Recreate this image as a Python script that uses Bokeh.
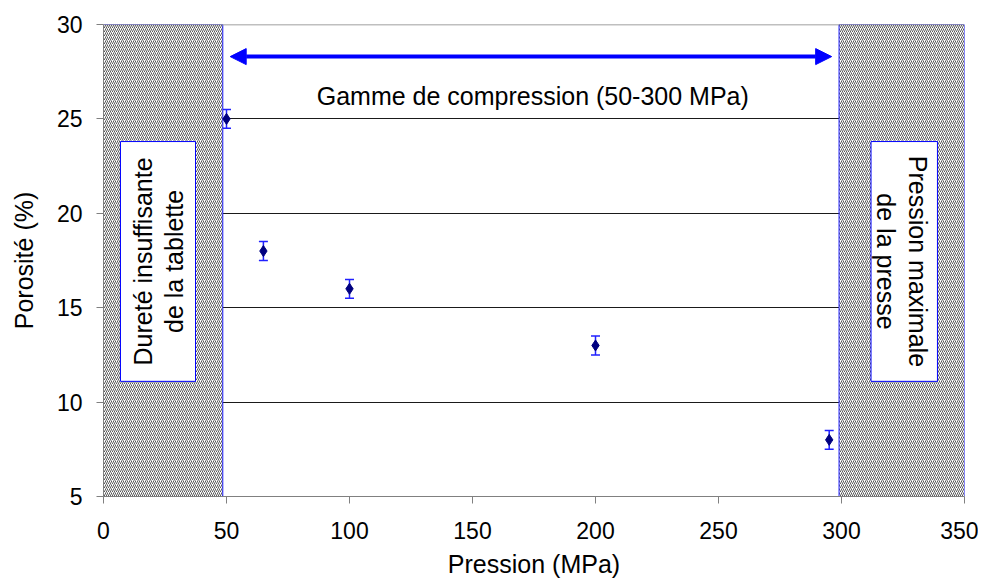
import numpy as np
from bokeh.plotting import figure
from bokeh.models import (Range1d, FixedTicker, ColumnDataSource, Whisker, TeeHead,
                          Arrow, NormalHead, Span)
from bokeh.core.properties import value
from bokeh.embed import file_html
from bokeh.resources import INLINE

# ---- data ----
pression = [50, 65, 100, 200, 295]
porosite = [25, 18, 16, 13, 8]
erreur = [0.5, 0.5, 0.5, 0.5, 0.5]

zone_left = [0, 48.5]
zone_right = [299, 350]
gamme = [51.5, 296]
x_ticks = [0, 50, 100, 150, 200, 250, 300, 350]
y_ticks = [5, 10, 15, 20, 25, 30]

FONT = "Liberation Sans"

p = figure(width=978, height=580, output_backend="svg", toolbar_location=None,
           x_range=Range1d(0, 350), y_range=Range1d(5, 30),
           min_border_left=103, min_border_right=14, min_border_top=24, min_border_bottom=83)
p.outline_line_color = None
p.background_fill_color = "white"

# axes
for ax in (p.xaxis[0], p.yaxis[0]):
    ax.axis_line_color = "#808080"
    ax.major_tick_line_color = "#808080"
    ax.major_tick_out = 7
    ax.major_tick_in = 0
    ax.minor_tick_line_color = None
    ax.major_label_text_font = FONT
    ax.major_label_text_font_size = "23px"
    ax.major_label_text_color = "black"
    ax.axis_label_text_font = FONT
    ax.axis_label_text_font_size = "25px"
    ax.axis_label_text_font_style = "normal"
    ax.axis_label_text_color = "black"
p.xaxis.ticker = FixedTicker(ticks=x_ticks)
p.yaxis.ticker = FixedTicker(ticks=y_ticks)
p.xaxis.axis_label = "Pression (MPa)"
p.yaxis.axis_label = "Porosité (%)"
p.xaxis.major_label_standoff = 18
p.xaxis.axis_label_standoff = 8
p.yaxis.major_label_standoff = 14
p.yaxis.axis_label_standoff = 16

p.xgrid.grid_line_color = None
p.ygrid.grid_line_color = "#1a1a1a"
p.ygrid.grid_line_width = 1
p.ygrid.ticker = FixedTicker(ticks=y_ticks[1:-1])
p.add_layout(Span(location=y_ticks[-1], dimension="width", line_color="#808080", line_width=1.5))

# hatched zones
for z in (zone_left, zone_right):
    p.quad(left=z[0], right=z[1], bottom=y_ticks[0], top=y_ticks[-1],
           fill_color="white", line_color="#2020ff", line_width=1,
           hatch_pattern="/", hatch_color="#5a5a5a", hatch_scale=4, hatch_weight=1)

# label boxes
p.quad(left=6.9, right=37.4, bottom=11.1, top=23.8, fill_color="white",
       line_color="#0000ff", line_width=1)
p.quad(left=312, right=339, bottom=11.1, top=23.8, fill_color="white",
       line_color="#0000ff", line_width=1)

common = dict(text_align="center", text_baseline="middle",
              text_font=value(FONT), text_font_size="25px", text_color="black")
p.text(x=[15.9, 28.5], y=[17.45, 17.45], text=["Dureté insuffisante", "de la tablette"],
       angle=np.pi / 2, **common)
p.text(x=[330.9, 317.9], y=[17.45, 17.45], text=["Pression maximale", "de la presse"],
       angle=-np.pi / 2, **common)

# range arrow
p.add_layout(Arrow(x_start=gamme[1], y_start=28.3, x_end=gamme[0], y_end=28.3,
                   line_color="#0000ff", line_width=4,
                   start=NormalHead(size=16, fill_color="#0000ff", line_color="#0000ff"),
                   end=NormalHead(size=16, fill_color="#0000ff", line_color="#0000ff")))
p.text(x=[174.5], y=[26.2], text=["Gamme de compression (50-300 MPa)"], **common)

# data points with error bars
src = ColumnDataSource(dict(x=pression, y=porosite,
                            lo=[v - e for v, e in zip(porosite, erreur)],
                            hi=[v + e for v, e in zip(porosite, erreur)]))
p.add_layout(Whisker(source=src, base="x", lower="lo", upper="hi",
                     line_color="#2020ff", line_width=1.5,
                     upper_head=TeeHead(size=9, line_color="#2020ff", line_width=1.5),
                     lower_head=TeeHead(size=9, line_color="#2020ff", line_width=1.5)))
p.scatter("x", "y", source=src, marker="diamond", size=11,
          fill_color="#000080", line_color="#000080")

open("out.html", "w").write(file_html(p, INLINE))
